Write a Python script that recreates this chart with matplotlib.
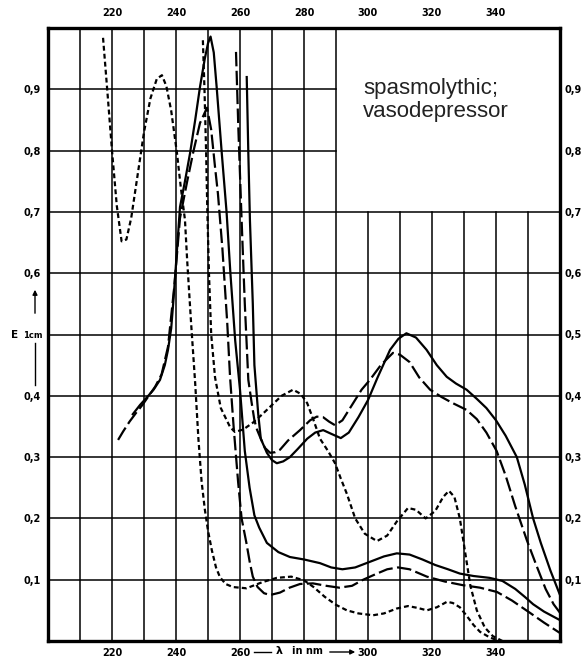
import matplotlib
matplotlib.use("Agg")
import matplotlib.pyplot as plt

# wavelength (nm) / extinction readings, low and high concentration runs
solid_low_x = [226.5, 228.75, 231, 233, 235, 236.5, 237.5, 238.5, 239.2, 240.2, 241.25, 242.8,
               244.4, 246, 247.5, 249, 250, 250.8, 251.8, 252.7, 253.5, 254.3, 255.8, 257,
               258.5, 260, 261.5, 263, 264.5, 266, 268.4, 272, 275.6, 280, 285, 288.5, 292,
               296, 300, 305, 309, 313, 317, 321, 325, 328.7, 333, 338, 342, 346, 349,
               351.6, 355, 360]
solid_low_y = [0.37, 0.385, 0.398, 0.41, 0.426, 0.45, 0.475, 0.51, 0.556, 0.63, 0.708, 0.75,
               0.796, 0.85, 0.904, 0.95, 0.975, 0.986, 0.96, 0.904, 0.85, 0.796, 0.7, 0.6,
               0.49, 0.41, 0.31, 0.25, 0.205, 0.185, 0.16, 0.145, 0.137, 0.133, 0.127, 0.12,
               0.117, 0.12, 0.128, 0.138, 0.143, 0.141, 0.133, 0.124, 0.117, 0.11, 0.106,
               0.103, 0.098, 0.085, 0.072, 0.06, 0.048, 0.034]

solid_high_x = [262.1, 262.6, 263.1, 264, 264.5, 265.7, 266.5, 268.4, 270, 271.5, 273.5, 275.6,
                278, 281, 283.5, 286, 288.5, 291.5, 294, 297, 300, 303, 306.9, 309.5, 312,
                315, 318.3, 321.5, 324.6, 327.5, 330.8, 334, 337, 340, 343, 346.5, 349,
                351.6, 354, 357, 360]
solid_high_y = [0.92, 0.796, 0.687, 0.55, 0.45, 0.37, 0.33, 0.307, 0.295, 0.29, 0.293, 0.3,
                0.313, 0.33, 0.34, 0.344, 0.338, 0.331, 0.34, 0.365, 0.393, 0.43, 0.475,
                0.493, 0.502, 0.495, 0.475, 0.45, 0.431, 0.42, 0.41, 0.395, 0.38, 0.36,
                0.335, 0.3, 0.255, 0.2, 0.16, 0.115, 0.075]

dash_low_x = [221.9, 223.5, 225.5, 227.5, 229.5, 231.5, 233.5, 235.5, 237.5, 239.5, 241.25,
              243.5, 245.5, 247.5, 249.7, 251, 252.2, 253.1, 254.5, 256, 256.9, 258, 259.4,
              260.5, 262, 263, 264, 265.5, 267.5, 269.4, 272.5, 275.5, 278.75, 282.8, 287,
              291, 295, 298.5, 302.8, 306, 309.4, 313, 318.4, 324, 329.7, 335, 340.3, 345,
              350.6, 355, 360]
dash_low_y = [0.328, 0.342, 0.358, 0.372, 0.385, 0.4, 0.415, 0.435, 0.48, 0.58, 0.69, 0.75,
              0.8, 0.845, 0.87, 0.834, 0.773, 0.73, 0.64, 0.52, 0.43, 0.35, 0.26, 0.2, 0.16,
              0.13, 0.105, 0.088, 0.078, 0.075, 0.079, 0.087, 0.093, 0.094, 0.09, 0.087,
              0.09, 0.1, 0.11, 0.117, 0.12, 0.117, 0.105, 0.097, 0.091, 0.087, 0.08, 0.066,
              0.046, 0.03, 0.013]

dash_high_x = [258.75, 259.5, 260.5, 261.5, 262.6, 263.6, 264.5, 265.3, 266.25, 267.8, 269.4,
               271, 272.5, 275, 278.75, 281.9, 284, 286, 287.8, 289.7, 292, 295, 298, 300.6,
               304, 307.8, 310, 313, 316, 319.4, 323, 326.5, 330.8, 334, 337, 340.2, 343,
               346, 349.6, 352.5, 355.5, 358, 360]
dash_high_y = [0.961, 0.834, 0.687, 0.55, 0.426, 0.39, 0.36, 0.345, 0.333, 0.315, 0.307,
               0.308, 0.312, 0.327, 0.344, 0.36, 0.366, 0.365, 0.358, 0.352, 0.36, 0.385,
               0.41, 0.426, 0.45, 0.47, 0.467, 0.455, 0.43, 0.41, 0.398, 0.388, 0.377, 0.362,
               0.34, 0.31, 0.27, 0.22, 0.165, 0.125, 0.085, 0.06, 0.046]

dot_low_x = [217.2, 218.5, 220, 221.5, 223, 224.5, 226, 228, 230, 232, 234, 235.6, 237,
             238.5, 240.3, 241.5, 242.8, 243.5, 244.7, 246, 247, 248, 249, 250, 251.2, 252.5,
             253.75, 255.5, 257.8, 262, 267, 271.5, 276, 280, 283, 286.5, 290, 293.4, 297,
             301.6, 305, 309, 312.5, 315.5, 318.4, 321.5, 324.7, 326.5, 328.7, 331, 333, 335,
             338, 341]
dot_low_y = [0.984, 0.9, 0.8, 0.71, 0.652, 0.655, 0.69, 0.76, 0.83, 0.885, 0.917, 0.923,
             0.905, 0.865, 0.796, 0.74, 0.687, 0.62, 0.52, 0.42, 0.33, 0.26, 0.215, 0.18,
             0.148, 0.12, 0.104, 0.093, 0.088, 0.086, 0.096, 0.103, 0.105, 0.099, 0.088,
             0.072, 0.059, 0.05, 0.045, 0.042, 0.045, 0.053, 0.057, 0.054, 0.05, 0.055,
             0.064, 0.062, 0.055, 0.04, 0.026, 0.015, 0.006, 0.0]

dot_high_x = [248.4, 248.9, 249.4, 249.8, 250.3, 251, 252.2, 254, 256.9, 258.4, 261, 264, 267,
              270, 273, 276.6, 279, 281, 283, 285, 287.5, 289.7, 291.5, 293.4, 296, 299,
              302.8, 306, 309, 312.5, 315, 318, 321, 323.5, 325.3, 327, 328.7, 330.5, 332,
              334, 336.5, 339, 342]
dot_high_y = [0.98, 0.9, 0.8, 0.7, 0.6, 0.5, 0.43, 0.38, 0.349, 0.341, 0.345, 0.356, 0.37,
              0.385, 0.4, 0.41, 0.403, 0.388, 0.36, 0.33, 0.31, 0.29, 0.265, 0.24, 0.2, 0.175,
              0.163, 0.172, 0.195, 0.217, 0.214, 0.2, 0.212, 0.235, 0.245, 0.235, 0.2, 0.14,
              0.09, 0.05, 0.022, 0.008, 0.0]

x_ticks = [220, 240, 260, 280, 300, 320, 340]
x_top_labels = ['220', '240', '260', '280', '300', '320', '340']
x_bottom_labels = ['220', '240', '260', '', '300', '320', '340']
y_ticks = [0.1, 0.2, 0.3, 0.4, 0.5, 0.6, 0.7, 0.8, 0.9]
y_right_labels = ['0,1', '0,2', '0,3', '0,4', '0,5', '0,6', '0,7', '0,8', '0,9']
y_left_labels = ['0,1', '0,2', '0,3', '0,4', '', '0,6', '0,7', '0,8', '0,9']

W, H = 584, 660
fig = plt.figure(figsize=(W / 100, H / 100), dpi=100)
ax = fig.add_axes([48 / W, 1 - 641 / H, 512 / W, 613 / H])
ax.set_xlim(200, 360)
ax.set_ylim(0, 1.0)

# grid, blank box top right for the caption
for gx in range(210, 360, 10):
    top = 1.0 if gx <= 290 else 0.7
    ax.plot([gx, gx], [0, top], color='black', lw=1.1, zorder=1)
for gy in [0.1, 0.2, 0.3, 0.4, 0.5, 0.6, 0.7, 0.8, 0.9]:
    right = 360 if gy <= 0.7 else 290
    ax.plot([200, right], [gy, gy], color='black', lw=1.1, zorder=1)

lw = 1.6
long_dash = (6.5, 2.0)
short_dash = (2.2, 1.4)
ax.plot(solid_low_x, solid_low_y, color='black', lw=lw, zorder=3)
ax.plot(solid_high_x, solid_high_y, color='black', lw=lw, zorder=3)
ax.plot(dash_low_x, dash_low_y, color='black', lw=lw, dashes=long_dash, zorder=3)
ax.plot(dash_high_x, dash_high_y, color='black', lw=lw, dashes=long_dash, zorder=3)
ax.plot(dot_low_x, dot_low_y, color='black', lw=lw, dashes=short_dash, zorder=3)
ax.plot(dot_high_x, dot_high_y, color='black', lw=lw, dashes=short_dash, zorder=3)

for sp in ax.spines.values():
    sp.set_linewidth(2.4)

tick_font = dict(fontsize=7, fontweight='bold', family='DejaVu Sans')
ax.set_xticks(x_ticks)
ax.set_xticklabels(x_bottom_labels, **tick_font)
ax.set_yticks(y_ticks)
ax.set_yticklabels(y_left_labels, **tick_font)
ax.tick_params(length=0, pad=5)

top_ax = ax.secondary_xaxis('top')
top_ax.set_xticks(x_ticks)
top_ax.set_xticklabels(x_top_labels, **tick_font)
top_ax.tick_params(length=0, pad=7)

right_ax = ax.secondary_yaxis('right')
right_ax.set_yticks(y_ticks)
right_ax.set_yticklabels(y_right_labels, **tick_font)
right_ax.tick_params(length=0, pad=3)


def px(x, y):
    return (x / W, 1 - y / H)


# y axis caption with arrow
fig.text(*px(15, 335), 'E', fontsize=7.5, fontweight='bold', ha='center', va='center')
fig.text(*px(33, 336), '1cm', fontsize=6, fontweight='bold', ha='center', va='center')
fig.add_artist(matplotlib.patches.FancyArrowPatch(px(35, 316), px(35, 287),
               transform=fig.transFigure, arrowstyle='-|>', mutation_scale=7,
               color='black', lw=1.0))
fig.add_artist(matplotlib.lines.Line2D([35 / W, 35 / W], [1 - 343 / H, 1 - 385 / H],
               transform=fig.transFigure, color='black', lw=1.0))

# x axis caption with arrow
fig.add_artist(matplotlib.lines.Line2D([254 / W, 271 / W], [1 - 652 / H, 1 - 652 / H],
               transform=fig.transFigure, color='black', lw=1.0))
fig.text(*px(279, 651), 'λ', fontsize=8, fontweight='bold', ha='center', va='center')
fig.text(*px(307, 651), 'in nm', fontsize=7, fontweight='bold', ha='center', va='center')
fig.add_artist(matplotlib.patches.FancyArrowPatch(px(327, 652), px(358, 652),
               transform=fig.transFigure, arrowstyle='-|>', mutation_scale=7,
               color='black', lw=1.0))

ax.text(298.4, 0.918, 'spasmolythic;\nvasodepressor', fontsize=16,
        family='Liberation Sans', color='#222222', ha='left', va='top', linespacing=1.1)

fig.savefig('out.png', dpi=100)
